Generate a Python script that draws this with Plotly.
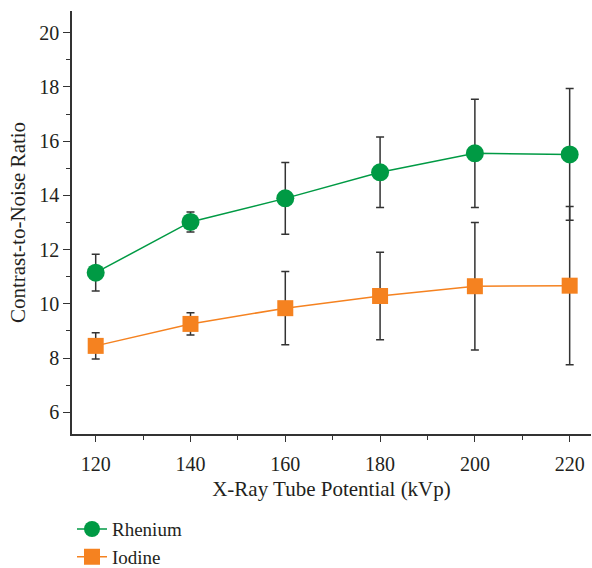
import plotly.graph_objects as go

kvp = [120, 140, 160, 180, 200, 220]
rhenium = [11.15, 13.02, 13.89, 14.85, 15.55, 15.51]
rhenium_err = [0.68, 0.37, 1.32, 1.30, 2.00, 2.43]
iodine = [8.45, 9.26, 9.84, 10.29, 10.65, 10.67]
iodine_err = [0.48, 0.41, 1.35, 1.61, 2.35, 2.92]
yticks = [6, 8, 10, 12, 14, 16, 18, 20]
xticks = [120, 140, 160, 180, 200, 220]

GREEN = "#009a44"
ORANGE = "#f58220"
AX = "#333333"
FONT = "'Liberation Serif', 'Times New Roman', serif"

fig = go.Figure()
fig.add_trace(go.Scatter(
    x=kvp, y=rhenium, name="Rhenium", mode="lines+markers",
    line=dict(color=GREEN, width=1.5),
    marker=dict(symbol="circle", size=18, color=GREEN),
    error_y=dict(type="data", array=rhenium_err, visible=True,
                 color=AX, thickness=1.5, width=4),
    legendgroup="g",
))
fig.add_trace(go.Scatter(
    x=kvp, y=iodine, name="Iodine", mode="lines+markers",
    line=dict(color=ORANGE, width=1.5),
    marker=dict(symbol="square", size=16, color=ORANGE),
    error_y=dict(type="data", array=iodine_err, visible=True,
                 color=AX, thickness=1.5, width=4),
    legendgroup="g",
))

fig.update_layout(
    width=592, height=568,
    margin=dict(l=72, r=1, t=11, b=134, autoexpand=False),
    paper_bgcolor="white", plot_bgcolor="white",
    font=dict(family=FONT, size=20, color="#231f20"),
    showlegend=True,
    legend=dict(x=0.0, y=-0.18, xanchor="left", yanchor="top",
                orientation="v", font=dict(size=19, family=FONT),
                tracegroupgap=0, bgcolor="rgba(0,0,0,0)"),
    xaxis=dict(
        range=[115, 224.5], tickvals=xticks, ticks="outside", ticklen=6,
        tickwidth=1.2, tickcolor=AX, showline=True, linecolor=AX, linewidth=1.5,
        showgrid=False, zeroline=False, ticklabelstandoff=5,
        minor=dict(dtick=10, tick0=110, ticks="outside", ticklen=4, tickcolor=AX, tickwidth=1.2),
        title=dict(text="X-Ray Tube Potential (kVp)", font=dict(size=21), standoff=8),
        tickfont=dict(size=20),
    ),
    yaxis=dict(
        range=[5.2, 20.8], tickvals=yticks, ticks="outside", ticklen=7,
        tickwidth=1.2, tickcolor=AX, showline=True, linecolor=AX, linewidth=1.5,
        showgrid=False, zeroline=False,
        minor=dict(dtick=2, tick0=5, ticks="outside", ticklen=4, tickcolor=AX, tickwidth=1.2),
        title=dict(text="Contrast-to-Noise Ratio", font=dict(size=21), standoff=8),
        tickfont=dict(size=20),
    ),
)

fig.write_html("out.html")
